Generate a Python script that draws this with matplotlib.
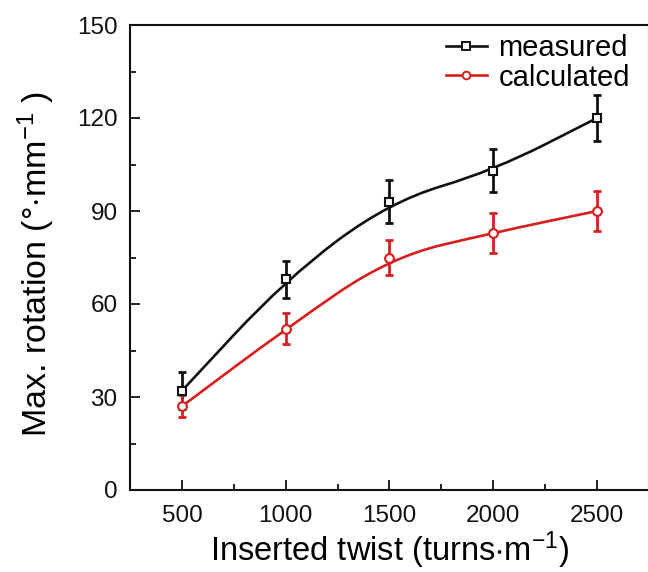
import matplotlib
matplotlib.use("Agg")
import matplotlib.pyplot as plt
from matplotlib.path import Path
from matplotlib.patches import PathPatch
from matplotlib.ticker import MultipleLocator

plt.rcParams['font.family'] = ['Liberation Sans', 'DejaVu Sans']
plt.rcParams['mathtext.fontset'] = 'custom'
plt.rcParams['mathtext.rm'] = 'Liberation Sans'
plt.rcParams['mathtext.it'] = 'Liberation Sans'

twist = [500, 1000, 1500, 2000, 2500]
measured = [32, 68, 93, 103, 120]
measured_err = [6, 6, 7, 7, 7.5]
calculated = [27, 52, 75, 83, 90]
calculated_err = [3.5, 5, 5.5, 6.5, 6.5]

BLACK = '#111111'
RED = '#d81e1e'

fig = plt.figure(figsize=(6.48, 5.72), dpi=100)
ax = fig.add_axes([130/648, 82/572, 519/648, 465/572])


def bspline_path(xs, ys):
    # quadratic B-spline style curve (control points = data points)
    verts = [(xs[0], ys[0])]
    codes = [Path.MOVETO]
    mids = [((xs[i] + xs[i+1]) / 2, (ys[i] + ys[i+1]) / 2) for i in range(len(xs) - 1)]
    verts.append(mids[0]); codes.append(Path.LINETO)
    for i in range(1, len(xs) - 1):
        verts.append((xs[i], ys[i])); codes.append(Path.CURVE3)
        verts.append(mids[i]); codes.append(Path.CURVE3)
    verts.append((xs[-1], ys[-1])); codes.append(Path.LINETO)
    return Path(verts, codes)


for ys, err, col, mk in [(measured, measured_err, BLACK, 's'),
                         (calculated, calculated_err, RED, 'o')]:
    ax.add_patch(PathPatch(bspline_path(twist, ys), facecolor='none',
                           edgecolor=col, lw=1.9, zorder=2))
    ax.errorbar(twist, ys, yerr=err, fmt='none', ecolor=col, elinewidth=2.0,
                capsize=2.8, capthick=2.0, zorder=3)
    ax.plot(twist, ys, linestyle='none', marker=mk, markersize=6.3,
            markerfacecolor='white', markeredgecolor=col, markeredgewidth=1.5,
            zorder=4)

# legend handles
h1, = ax.plot([], [], color=BLACK, lw=1.9, marker='s', markersize=5.5,
              markerfacecolor='white', markeredgecolor=BLACK, markeredgewidth=1.4)
h2, = ax.plot([], [], color=RED, lw=1.9, marker='o', markersize=5.5,
              markerfacecolor='white', markeredgecolor=RED, markeredgewidth=1.4)
leg = ax.legend([h1, h2], ['measured', 'calculated'], loc='upper right',
                bbox_to_anchor=(0.997, 1.018), frameon=False, fontsize=21,
                handlelength=1.4, handletextpad=0.4, labelspacing=0.05,
                borderaxespad=0.2)

ax.set_xlim(250, 2750)
ax.set_ylim(0, 150)
ax.set_xticks(twist)
ax.set_yticks([0, 30, 60, 90, 120, 150])
ax.xaxis.set_minor_locator(MultipleLocator(250))
ax.yaxis.set_minor_locator(MultipleLocator(15))
ax.tick_params(which='both', direction='in', top=False, right=False,
               width=1.3, labelsize=17.5, colors=BLACK)
ax.tick_params(which='major', length=7)
ax.tick_params(which='minor', length=4)
ax.tick_params(axis='x', which='major', pad=11)
ax.tick_params(axis='y', which='major', pad=9)
for s in ax.spines.values():
    s.set_linewidth(1.5)
    s.set_color(BLACK)

ax.set_xlabel('Inserted twist (turns$\\cdot$m$^{\\mathregular{-1}}$)', fontsize=23.5)
ax.xaxis.set_label_coords(0.5, -0.086)
ax.set_ylabel('Max. rotation (°$\\cdot$mm$^{\\mathregular{-1}}$ )', fontsize=24.5)
ax.yaxis.set_label_coords(-0.14, 0.486)

fig.savefig('out.png', dpi=100)
